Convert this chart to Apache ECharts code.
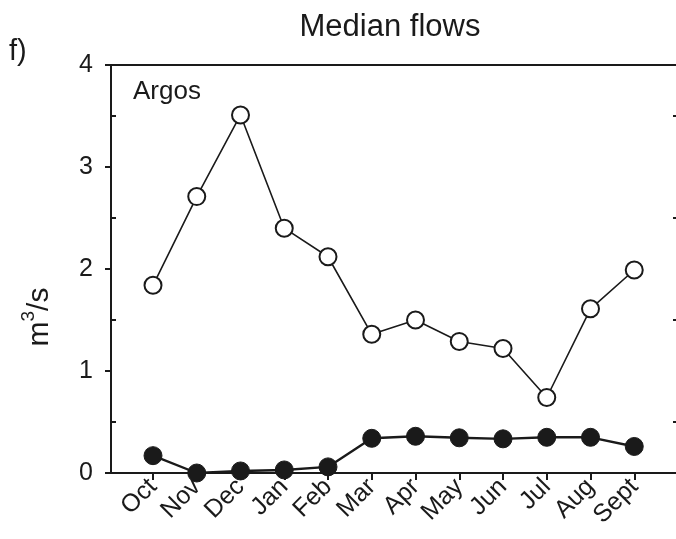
<!DOCTYPE html>
<html>
<head>
<meta charset="utf-8">
<title>Median flows</title>
<script src="https://cdn.jsdelivr.net/npm/echarts@6/dist/echarts.min.js"></script>
<style>
  html, body { margin: 0; padding: 0; background: #ffffff; }
  #chart { width: 676px; height: 539px; }
</style>
</head>
<body>
<div id="chart"></div>
<script>
// Monthly median flows (m3/s) at Argos
const months = ['Oct', 'Nov', 'Dec', 'Jan', 'Feb', 'Mar', 'Apr', 'May', 'Jun', 'Jul', 'Aug', 'Sept'];
const hollowFlow = [1.84, 2.71, 3.51, 2.40, 2.12, 1.36, 1.50, 1.29, 1.22, 0.74, 1.61, 1.99];
const solidFlow = [0.17, 0.00, 0.02, 0.03, 0.06, 0.34, 0.36, 0.345, 0.335, 0.35, 0.35, 0.26];
const yTicks = [0, 1, 2, 3, 4];
const yMinorTicks = [0.5, 1.5, 2.5, 3.5];

const FONT = '"Liberation Sans", Arial, Helvetica, sans-serif';
const INK = '#1a1a1a';
const monthIdx = months.map((_, i) => i);

const toPairs = arr => arr.map((v, i) => [i, v]);

const chart = echarts.init(document.getElementById('chart'), null, { renderer: 'canvas' });

chart.setOption({
  animation: false,
  backgroundColor: '#ffffff',
  grid: {
    left: 111, top: 65, width: 567, height: 408,
    show: true, borderColor: INK, borderWidth: 2,
    containLabel: false, outerBoundsMode: 'none'
  },
  xAxis: {
    type: 'value',
    min: -0.96, max: 12.0,
    axisLine: { show: true, onZero: false, lineStyle: { color: INK, width: 2 } },
    axisTick: { show: true, inside: false, length: 7, customValues: monthIdx, lineStyle: { color: INK, width: 2 } },
    axisLabel: {
      show: true, customValues: monthIdx, rotate: 45, margin: 10,
      formatter: v => months[Math.round(v)] || '',
      color: INK, fontSize: 25, fontFamily: FONT
    },
    splitLine: { show: false }
  },
  yAxis: [
    {
      type: 'value', position: 'left',
      min: 0, max: 4, interval: 1,
      axisLine: { show: true, onZero: false, lineStyle: { color: INK, width: 2 } },
      axisTick: { show: true, inside: false, length: 6, customValues: yTicks, lineStyle: { color: INK, width: 2 } },
      axisLabel: { show: true, customValues: yTicks, margin: 18, color: INK, fontSize: 25, fontFamily: FONT },
      splitLine: { show: false }
    },
    {
      // inward half-unit ticks on the left edge
      type: 'value', position: 'left', min: 0, max: 4,
      axisLine: { show: false, onZero: false },
      axisTick: { show: true, inside: true, length: 5, customValues: yMinorTicks, lineStyle: { color: INK, width: 2 } },
      axisLabel: { show: false },
      splitLine: { show: false }
    },
    {
      // inward half-unit ticks on the right edge
      type: 'value', position: 'right', min: 0, max: 4,
      axisLine: { show: false, onZero: false },
      axisTick: { show: true, inside: true, length: 5, customValues: yMinorTicks, lineStyle: { color: INK, width: 2 } },
      axisLabel: { show: false },
      splitLine: { show: false }
    }
  ],
  series: [
    {
      name: 'hollow',
      type: 'line',
      yAxisIndex: 0,
      data: toPairs(hollowFlow),
      symbol: 'circle',
      symbolSize: 17,
      lineStyle: { color: INK, width: 1.6 },
      itemStyle: { color: '#ffffff', borderColor: INK, borderWidth: 2 },
      z: 3
    },
    {
      name: 'solid',
      type: 'line',
      yAxisIndex: 0,
      data: toPairs(solidFlow),
      symbol: 'circle',
      symbolSize: 18,
      lineStyle: { color: INK, width: 2.4 },
      itemStyle: { color: INK, borderColor: INK, borderWidth: 1 },
      z: 3
    }
  ],
  graphic: [
    {
      type: 'text', x: 390, y: 27,
      style: { text: 'Median flows', fill: INK, font: '31px ' + FONT, align: 'center', verticalAlign: 'middle' }
    },
    {
      type: 'text', x: 9, y: 52,
      style: { text: 'f)', fill: INK, font: '29px ' + FONT, align: 'left', verticalAlign: 'middle' }
    },
    {
      type: 'text', x: 133, y: 92,
      style: { text: 'Argos', fill: INK, font: '26px ' + FONT, align: 'left', verticalAlign: 'middle' }
    },
    {
      type: 'text', x: 37, y: 317, rotation: Math.PI / 2,
      style: {
        text: '{base|m}{sup|3}{base|/s}',
        align: 'center', verticalAlign: 'middle',
        rich: {
          base: { fill: INK, fontSize: 30, fontFamily: FONT, verticalAlign: 'bottom', lineHeight: 36 },
          sup: { fill: INK, fontSize: 19, fontFamily: FONT, verticalAlign: 'top', lineHeight: 36 }
        }
      }
    }
  ]
});
</script>
</body>
</html>
